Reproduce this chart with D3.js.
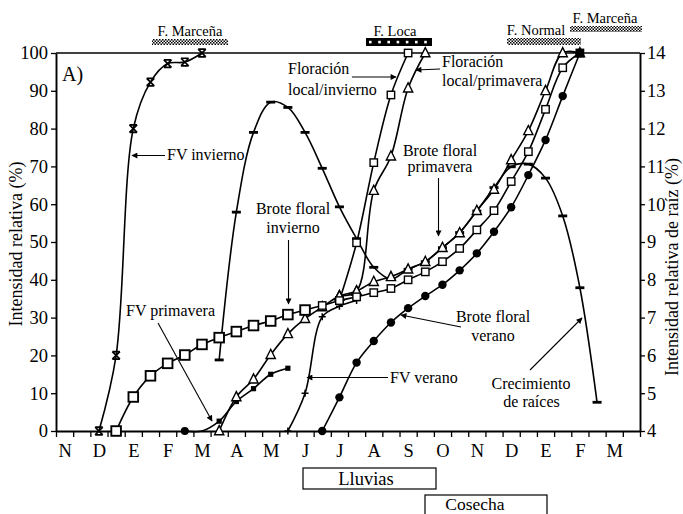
<!DOCTYPE html>
<html><head><meta charset="utf-8">
<script src="https://cdn.jsdelivr.net/npm/d3@7"></script>
<style>
body{margin:0;background:#fff}
text{font-family:"Liberation Serif","Times New Roman",serif;fill:#000}
</style>
</head><body>
<svg id="c" width="683" height="514"></svg>
<script>
// ---- DATA ----
// 17 months, each split into two half-month categories (34 categories)
const months = ["N","D","E","F","M","A","M","J","J","A","S","O","N","D","E","F","M"];
const categories = months.flatMap((m, i) => [i * 2, i * 2 + 1]);
const leftTicks = [0,10,20,30,40,50,60,70,80,90,100];
const rightTicks = [4,5,6,7,8,9,10,11,12,13,14];

// Each series: first half-month category index + values (left axis %, except raices: right axis %)
const fvInviernoStart = 2;
const fvInvierno = [0,20,80,92.3,97.2,97.6,100];
const broteInviernoStart = 3;
const broteInvierno = [0,9,14.6,17.9,20.1,22.9,24.7,26.3,27.9,29.1,30.8,32,33.2,34.5,35.5,36.6,37.7,40,42.1,44.8,48.3,53.2,58.3,66,73.9,85.1,96.1,100];
const brotePrimaveraStart = 9;
const brotePrimavera = [0,9,13.7,20.2,25.7,29.7,32.8,35.7,37,39.5,40.8,42.8,44.8,48.5,52.4,58.3,63.9,71.7,79.4,90,100,100];
const broteVeranoStart = 15;
const broteVerano = [0,8.9,18.1,23.8,28.7,32.5,35.7,38.7,42.5,47,52.7,59.2,67.7,77,88.6,100];
const floracionInviernoStart = 16;
const floracionInvierno = [34.5,49.8,71,88.9,100];
const floracionPrimaveraStart = 16;
const floracionPrimavera = [35.7,37,63.6,72.7,90.7,100];
const fvPrimaveraStart = 7;
const fvPrimavera = [0,0,2.6,7.8,11.2,15,16.6];
const fvVeranoStart = 13;
const fvVerano = [0,10,30.2,33,34.5];
const raicesStart = 9;
const raices = [5.88,9.79,11.9,12.7,12.56,11.9,10.95,9.93,9.09,8.33,8.02,8.28,8.48,8.85,9.25,9.82,10.44,10.99,11.06,10.69,9.69,7.79,4.76];

// ---- CHART ----
const svg = d3.select("#c");
const L = 56, R = 640, T = 53, B = 431;
const x = d3.scaleLinear().domain([-0.5, categories.length - 0.5]).range([L, R]);
const y = d3.scaleLinear().domain([0, 100]).range([B, T]);
const yR = d3.scaleLinear().domain([4, 14]).range([B, T]);

const defs = svg.append("defs");
const chk = defs.append("pattern").attr("id","chk").attr("width",3).attr("height",3).attr("patternUnits","userSpaceOnUse");
chk.append("rect").attr("width",3).attr("height",3).attr("fill","#fff");
chk.append("rect").attr("width",1.5).attr("height",1.5).attr("fill","#000");
chk.append("rect").attr("x",1.5).attr("y",1.5).attr("width",1.5).attr("height",1.5).attr("fill","#000");
defs.append("marker").attr("id","ah").attr("viewBox","0 0 10 10").attr("refX",9).attr("refY",5)
  .attr("markerWidth",7).attr("markerHeight",6).attr("markerUnits","userSpaceOnUse").attr("orient","auto")
  .append("path").attr("d","M0,0L10,5L0,10z").attr("fill","#000");

// top border
svg.append("line").attr("x1",L).attr("x2",R).attr("y1",T).attr("y2",T).attr("stroke","#000").attr("stroke-width",1.6);

// axes
const fontAxis = "18.5px";
const gL = svg.append("g").attr("transform",`translate(${L},0)`)
  .call(d3.axisLeft(y).tickValues(leftTicks).tickSize(5).tickSizeOuter(0).tickPadding(3));
const gR = svg.append("g").attr("transform",`translate(${R},0)`)
  .call(d3.axisRight(yR).tickValues(rightTicks).tickSize(5).tickSizeOuter(0).tickPadding(2));
const boundaries = d3.range(categories.length + 1).map(i => i - 0.5);
const gB = svg.append("g").attr("transform",`translate(0,${B})`)
  .call(d3.axisBottom(x).tickValues(boundaries).tickSize(6).tickSizeOuter(0).tickFormat(""));
const gM = svg.append("g").attr("transform",`translate(0,${B})`)
  .call(d3.axisBottom(x).tickValues(months.map((m,i)=>i*2)).tickSize(0).tickPadding(13).tickFormat((d)=>months[d/2]));
gM.select(".domain").remove();
[gL,gR,gB,gM].forEach(g=>{
  g.selectAll("text").attr("font-size",fontAxis).attr("font-family","Liberation Serif").attr("fill","#000");
  g.selectAll("line").attr("stroke","#000").attr("stroke-width",1.3);
  g.selectAll(".domain").attr("stroke","#000").attr("stroke-width",1.9);
});

// axis titles
svg.append("text").attr("transform","translate(22,244) rotate(-90)").attr("text-anchor","middle")
  .attr("font-size","18px").text("Intensidad relativa (%)");
svg.append("text").attr("transform","translate(678,267) rotate(-90)").attr("text-anchor","middle")
  .attr("font-size","18px").text("Intensidad relativa de raíz (%)");
svg.append("text").attr("x",62).attr("y",81).attr("font-size","20px").text("A)");

// series helpers
const pts = (start, vals, sc) => vals.map((v,i)=>({cx:x(start+i), cy:sc(v), i}));
const lineGen = d3.line().x(d=>d.cx).y(d=>d.cy).curve(d3.curveCatmullRom.alpha(0.5));
const gLines = svg.append("g"), gMarks = svg.append("g");
function series(start, vals, sc, marker){
  const p = pts(start, vals, sc);
  gLines.append("path").attr("d", lineGen(p)).attr("fill","none").attr("stroke","#000").attr("stroke-width",1.6);
  const g = gMarks.append("g");
  p.forEach(d => marker(g, d));
}
const mStar = (g,d)=>{ const s=3.8;
  g.append("path").attr("d",`M${d.cx-s},${d.cy-s}L${d.cx+s},${d.cy+s}M${d.cx+s},${d.cy-s}L${d.cx-s},${d.cy+s}M${d.cx-s},${d.cy-s}H${d.cx+s}M${d.cx-s},${d.cy+s}H${d.cx+s}`)
   .attr("stroke","#000").attr("stroke-width",1.7).attr("fill","none"); };
const mPlus = (g,d)=>{ const s=3.5;
  g.append("path").attr("d",`M${d.cx-s},${d.cy}H${d.cx+s}M${d.cx},${d.cy-s}V${d.cy+s}`)
   .attr("stroke","#000").attr("stroke-width",1.5); };
const mDash = (g,d)=>{ g.append("rect").attr("x",d.cx-4.5).attr("y",d.cy-1.4).attr("width",9).attr("height",2.8).attr("fill","#000"); };
const mSmallSq = (g,d)=>{ if(d.i===0){ g.append("circle").attr("cx",d.cx).attr("cy",d.cy).attr("r",4).attr("fill","#000"); return; }
  if(d.i===1) return;
  g.append("rect").attr("x",d.cx-2.6).attr("y",d.cy-2.6).attr("width",5.2).attr("height",5.2).attr("fill","#000"); };
const mCircle = (g,d)=>{ g.append("circle").attr("cx",d.cx).attr("cy",d.cy).attr("r",4.2).attr("fill","#000"); };
const mTri = (g,d)=>{ const s=4.6;
  g.append("path").attr("d",`M${d.cx},${d.cy-s-0.8}L${d.cx+s},${d.cy+s-0.8}L${d.cx-s},${d.cy+s-0.8}Z`)
   .attr("fill","#fff").attr("stroke","#000").attr("stroke-width",1.4); };
const mSqFor = (n)=> (g,d)=>{ const big = d.i <= 11; const s = big ? 4.8 : 3.7; const last = d.i === n-1;
  g.append("rect").attr("x",d.cx-s).attr("y",d.cy-s).attr("width",2*s).attr("height",2*s)
   .attr("fill", last ? "#000" : "#fff").attr("stroke","#000").attr("stroke-width", big ? 1.9 : 1.4); };
const mSq = (g,d)=>{ const s=3.7;
  g.append("rect").attr("x",d.cx-s).attr("y",d.cy-s).attr("width",2*s).attr("height",2*s)
   .attr("fill","#fff").attr("stroke","#000").attr("stroke-width",1.4); };

series(raicesStart, raices, yR, mDash);
series(fvInviernoStart, fvInvierno, y, mStar);
series(fvPrimaveraStart, fvPrimavera, y, mSmallSq);
series(fvVeranoStart, fvVerano, y, mPlus);
series(broteVeranoStart, broteVerano, y, mCircle);
series(floracionPrimaveraStart, floracionPrimavera, y, mTri);
series(floracionInviernoStart, floracionInvierno, y, mSq);
series(brotePrimaveraStart, brotePrimavera, y, mTri);
series(broteInviernoStart, broteInvierno, y, mSqFor(broteInvierno.length));

// annotations
function txt(s, xx, yy, anchor="start", size="16px"){
  svg.append("text").attr("x",xx).attr("y",yy).attr("text-anchor",anchor).attr("font-size",size).text(s);
}
function arrow(x1,y1,x2,y2){
  svg.append("line").attr("x1",x1).attr("y1",y1).attr("x2",x2).attr("y2",y2)
    .attr("stroke","#000").attr("stroke-width",1.1).attr("marker-end","url(#ah)");
}
txt("FV invierno",167,160); arrow(165,155.5,132,155.5);
txt("Brote floral",293,214,"middle"); txt("invierno",293,233,"middle"); arrow(288.5,240,288.5,304);
txt("Floración",288,74); txt("local/invierno",288,95); arrow(352,77,396,77);
txt("Floración",442,67); txt("local/primavera",442,86); arrow(440,69,416,70);
txt("Brote floral",440,156,"middle"); txt("primavera",440,172,"middle"); arrow(438.5,178,438.5,236);
txt("Brote floral",493,322,"middle"); txt("verano",493,341,"middle"); arrow(461,327,401,315);
txt("FV verano",390,383); arrow(388,377.5,307,377.5);
txt("Crecimiento",531,389,"middle"); txt("de raíces",531.5,406.5,"middle"); arrow(530,370,582,318);
txt("FV primavera",126,316); arrow(158,323,212,421);

// phenology bars (top)
txt("F. Marceña",190,36,"middle","14.5px");
svg.append("rect").attr("x",152).attr("y",39).attr("width",76).attr("height",6).attr("fill","url(#chk)");
txt("F. Loca",395,36,"middle","14.5px");
svg.append("rect").attr("x",366).attr("y",38).attr("width",66).attr("height",8).attr("fill","#000");
d3.range(7).forEach(k=> svg.append("rect").attr("x",369 + k*9.2).attr("y",40.8).attr("width",2.6).attr("height",2.6).attr("fill","#fff"));
txt("F. Normal",536,35,"middle","14.5px");
svg.append("rect").attr("x",507).attr("y",38).attr("width",74).attr("height",7).attr("fill","url(#chk)");
txt("F. Marceña",605,23,"middle","14.5px");
svg.append("rect").attr("x",570).attr("y",26).attr("width",72).attr("height",6).attr("fill","url(#chk)");

// bottom boxes
svg.append("rect").attr("x",303).attr("y",468).attr("width",133).attr("height",21).attr("fill","none").attr("stroke","#000").attr("stroke-width",1.2);
txt("Lluvias",366,485,"middle","18.5px");
svg.append("rect").attr("x",425).attr("y",495).attr("width",122).attr("height",30).attr("fill","none").attr("stroke","#000").attr("stroke-width",1.2);
txt("Cosecha",475,510,"middle","17.5px");
</script>
</body></html>
